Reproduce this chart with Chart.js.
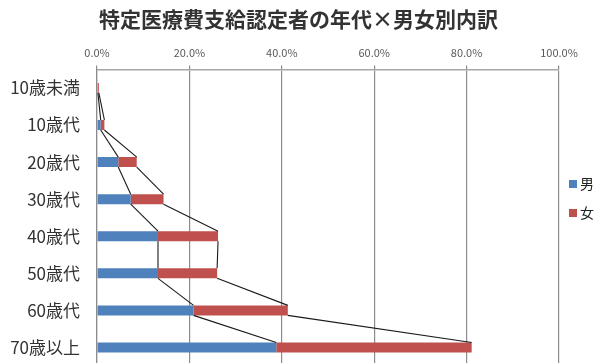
<!DOCTYPE html>
<html>
<head>
<meta charset="utf-8">
<script src="https://cdn.jsdelivr.net/npm/chart.js@4"></script>
<style>
  html, body { margin: 0; padding: 0; background: #fff; overflow: hidden; }
  canvas { display: block; }
</style>
</head>
<body>
<canvas id="chart" width="597" height="366"></canvas>
<script>
// 年代
const ageGroups = ['10歳未満', '10歳代', '20歳代', '30歳代', '40歳代', '50歳代', '60歳代', '70歳以上'];
// 男女別の割合 (%)
const maleValues = [0.2, 0.8, 4.6, 7.3, 13.2, 13.2, 20.9, 38.8];
const femaleValues = [0.2, 0.8, 4.0, 7.1, 13.0, 12.8, 20.4, 42.3];
const axisTicks = [0, 20, 40, 60, 80, 100];

const fontJP = '"Noto Sans CJK JP", "Noto Sans", sans-serif';

// 系列線 (棒の先端を結ぶ線)
const seriesLines = {
    id: 'seriesLines',
    afterDatasetsDraw(chart) {
        const ctx = chart.ctx;
        const xs = chart.scales.x;
        const n = chart.data.labels.length;
        const cum = new Array(n).fill(0);
        ctx.save();
        ctx.strokeStyle = '#1a1a1a';
        ctx.lineWidth = 1.1;
        chart.data.datasets.forEach((ds, d) => {
            const meta = chart.getDatasetMeta(d);
            for (let i = 0; i < n; i++) cum[i] += ds.data[i];
            for (let i = 0; i < n - 1; i++) {
                const a = meta.data[i], b = meta.data[i + 1];
                ctx.beginPath();
                ctx.moveTo(xs.getPixelForValue(cum[i]), a.y + a.height / 2);
                ctx.lineTo(xs.getPixelForValue(cum[i + 1]), b.y - b.height / 2);
                ctx.stroke();
            }
        });
        ctx.restore();
    }
};

// 凡例 (グラフ右側)
const sideLegend = {
    id: 'sideLegend',
    afterDraw(chart) {
        const ctx = chart.ctx;
        const x = chart.chartArea.right + 10;
        ctx.save();
        ctx.font = '14px ' + fontJP;
        ctx.textBaseline = 'middle';
        chart.data.datasets.forEach((ds, i) => {
            const y = 184 + i * 29;
            ctx.fillStyle = ds.backgroundColor;
            ctx.fillRect(x, y - 4, 8, 8);
            ctx.fillStyle = '#222';
            ctx.fillText(ds.label, x + 11, y);
        });
        ctx.restore();
    }
};

const ctx = document.getElementById('chart').getContext('2d');
new Chart(ctx, {
    type: 'bar',
    data: {
        labels: ageGroups,
        datasets: [
            { label: '男', data: maleValues, backgroundColor: '#4F81BD', barPercentage: 0.27, categoryPercentage: 1 },
            { label: '女', data: femaleValues, backgroundColor: '#C0504D', barPercentage: 0.27, categoryPercentage: 1 }
        ]
    },
    options: {
        indexAxis: 'y',
        responsive: false,
        animation: false,
        layout: { padding: 0 },
        plugins: {
            legend: { display: false },
            tooltip: { enabled: false },
            title: {
                display: true,
                text: '特定医療費支給認定者の年代×男女別内訳',
                color: '#333',
                font: { family: fontJP, size: 21, weight: 'bold' },
                padding: { top: 6, bottom: 9 }
            }
        },
        scales: {
            x: {
                position: 'top',
                stacked: true,
                min: 0,
                max: 100,
                afterBuildTicks: s => { s.ticks = axisTicks.map(v => ({ value: v })); },
                afterFit: s => { s.paddingRight = 38; },
                ticks: {
                    padding: 6,
                    color: '#595959',
                    font: { family: fontJP, size: 11 },
                    callback: v => v.toFixed(1) + '%'
                },
                grid: { color: '#8c8c8c', lineWidth: 1.2, tickLength: 4 },
                border: { color: '#a6a6a6', width: 1.5 }
            },
            y: {
                stacked: true,
                afterFit: s => { s.width = 97; s.paddingTop = 0; s.paddingBottom = 0; },
                ticks: {
                    padding: 17,
                    color: '#333',
                    font: { family: fontJP, size: 17 }
                },
                grid: { display: false, drawTicks: false },
                border: { color: '#8c8c8c', width: 1.2 }
            }
        }
    },
    plugins: [seriesLines, sideLegend]
});
</script>
</body>
</html>
